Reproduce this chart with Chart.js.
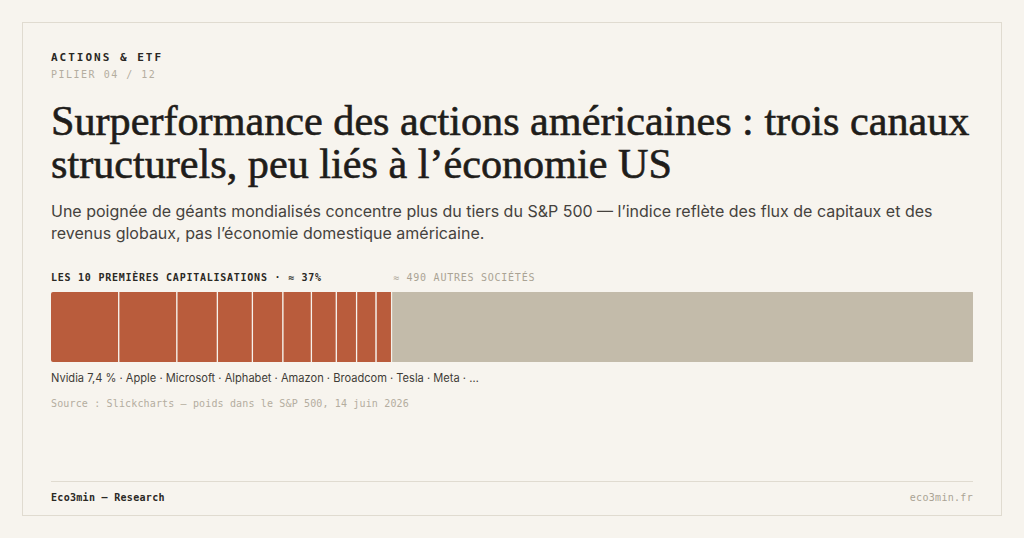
<!DOCTYPE html>
<html lang="fr">
<head>
<meta charset="utf-8">
<script src="https://cdn.jsdelivr.net/npm/chart.js@4"></script>
<style>
  html, body { margin: 0; padding: 0; }
  body { width: 1024px; height: 538px; background: #f7f4ee; position: relative; overflow: hidden; }
  .card { position: absolute; left: 22px; top: 22px; width: 978px; height: 492px; border: 1px solid #e0dbd0; }
  .abs { position: absolute; white-space: nowrap; }
  .mono { font-family: "DejaVu Sans Mono", "Liberation Mono", monospace; }
  .kicker { left: 51px; top: 51px; font-size: 11px; font-weight: bold; letter-spacing: 2px; color: #2a2824; }
  .pilier { left: 51px; top: 69px; font-size: 10px; letter-spacing: 1.5px; color: #b4ad9f; }
  .title { left: 51px; top: 99px; font-family: "Liberation Serif", "DejaVu Serif", serif; font-size: 42.2px; line-height: 43px; color: #1f1d1a; -webkit-text-stroke: 0.6px #1f1d1a; }
  .sub { left: 51px; top: 200px; font-family: Inter, "Noto Sans", sans-serif; font-size: 16px; line-height: 22px; color: #45423d; }
  .lbl { top: 272px; font-size: 10px; letter-spacing: 0.75px; }
  .lbl1 { left: 51px; font-weight: bold; color: #2a2824; }
  .lbl2 { left: 393px; color: #aaa394; }
  #wrap { position: absolute; left: 51px; top: 292px; width: 922px; height: 70px; }
  .names { left: 51px; top: 371px; font-family: Inter, "Noto Sans", sans-serif; font-size: 11.1px; color: #3f3c37; }
  .src { left: 51px; top: 398px; font-size: 10px; letter-spacing: 0.15px; color: #b4ad9f; }
  .rule { position: absolute; left: 51px; top: 481px; width: 922px; height: 1px; background: #e0dbd0; }
  .foot { top: 492px; font-size: 10px; letter-spacing: 0.3px; }
  .foot1 { left: 51px; color: #2a2824; font-weight: bold; }
  .foot2 { right: 51px; color: #aaa394; }
</style>
</head>
<body>
<div class="card"></div>
<div class="abs mono kicker">ACTIONS &amp; ETF</div>
<div class="abs mono pilier">PILIER 04 / 12</div>
<div class="abs title">Surperformance des actions américaines : trois canaux<br>structurels, peu liés à l’économie US</div>
<div class="abs sub">Une poignée de géants mondialisés concentre plus du tiers du S&amp;P 500 — l’indice reflète des flux de capitaux et des<br>revenus globaux, pas l’économie domestique américaine.</div>
<div class="abs mono lbl lbl1">LES 10 PREMIÈRES CAPITALISATIONS · ≈ 37%</div>
<div class="abs mono lbl lbl2">≈ 490 AUTRES SOCIÉTÉS</div>
<div id="wrap"><canvas id="bar"></canvas></div>
<div class="abs names">Nvidia 7,4 % · Apple · Microsoft · Alphabet · Amazon · Broadcom · Tesla · Meta · …</div>
<div class="abs mono src">Source : Slickcharts — poids dans le S&amp;P 500, 14 juin 2026</div>
<div class="rule"></div>
<div class="abs mono foot foot1">Eco3min — Research</div>
<div class="abs mono foot foot2">eco3min.fr</div>

<script>
// poids dans le S&P 500 (%)
const topNames = ['Nvidia', 'Apple', 'Microsoft', 'Alphabet', 'Amazon', 'Broadcom', 'Tesla', 'Meta', 'N°9', 'N°10'];
const topWeights = [7.4, 6.3, 4.4, 3.8, 3.3, 3.1, 2.7, 2.2, 2.1, 1.7];
const restLabel = '≈ 490 autres sociétés';
const restWeight = 63.0;

const orange = '#b95c3c';
const grey = '#c3bbaa';

const datasets = topNames.map((name, i) => ({
  label: name,
  data: [topWeights[i]],
  backgroundColor: orange,
  borderColor: 'rgba(247,244,238,0.7)',
  borderWidth: { left: 0, top: 0, bottom: 0, right: 1.5 },
  borderSkipped: false,
  borderRadius: i === 0 ? { topLeft: 2, bottomLeft: 2, topRight: 0, bottomRight: 0 } : 0
}));
datasets.push({
  label: restLabel,
  data: [restWeight],
  backgroundColor: grey,
  borderWidth: 0,
  borderSkipped: false,
  borderRadius: { topLeft: 0, bottomLeft: 0, topRight: 2, bottomRight: 2 }
});

new Chart(document.getElementById('bar'), {
  type: 'bar',
  data: { labels: ['S&P 500'], datasets: datasets },
  options: {
    indexAxis: 'y',
    responsive: true,
    maintainAspectRatio: false,
    animation: false,
    layout: { padding: 0 },
    datasets: { bar: { categoryPercentage: 1, barPercentage: 1 } },
    scales: {
      x: { stacked: true, min: 0, max: 100, display: false },
      y: { stacked: true, display: false }
    },
    plugins: { legend: { display: false }, tooltip: { enabled: false } }
  }
});
</script>
</body>
</html>
